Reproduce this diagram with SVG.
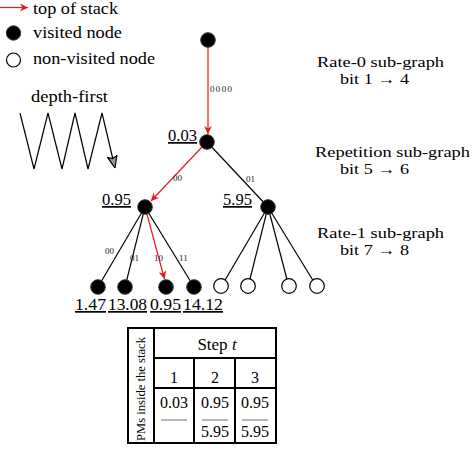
<svg xmlns="http://www.w3.org/2000/svg" width="474" height="449" viewBox="0 0 474 449">
<style>
text{font-family:"Liberation Serif","Times New Roman",serif;fill:#000}
.lg{font-size:17px}
.sg{font-size:15px}
.tx{font-size:16px}
.num{font-size:17px;text-decoration:underline}
.el{font-size:9px;fill:#222}
.blk{stroke:#000;stroke-width:1.2;fill:none}
.red{stroke:#e8191c;stroke-width:1.2;fill:none}
.vis{fill:#000;stroke:#333;stroke-width:1}
.nv{fill:#fff;stroke:#000;stroke-width:1.2}
.tb{stroke:#000;stroke-width:2;fill:none}
.gl{stroke:#888;stroke-width:1.2}
</style>
<defs>
<marker id="ra" viewBox="0 0 10 10" refX="10" refY="5" markerWidth="8" markerHeight="8" orient="auto" markerUnits="userSpaceOnUse">
<path d="M0,0 L10,5 L0,10 L3,5 Z" fill="#e8191c"/>
</marker>
<marker id="ba" viewBox="0 0 10 10" refX="10" refY="5" markerWidth="12" markerHeight="12" orient="auto" markerUnits="userSpaceOnUse">
<path d="M0,1 L10,5 L0,9 L2,5 Z" fill="#999" stroke="#000" stroke-width="1"/>
</marker>
</defs>

<g id="legend">
<line class="red" x1="0" y1="7.5" x2="28" y2="7.5" marker-end="url(#ra)"/>
<text class="lg" x="33" y="14" textLength="85" lengthAdjust="spacingAndGlyphs">top of stack</text>
<circle class="vis" cx="13.5" cy="33" r="7.2"/>
<text class="lg" x="33" y="38" textLength="89" lengthAdjust="spacingAndGlyphs">visited node</text>
<circle class="nv" cx="13.5" cy="60" r="7"/>
<text class="lg" x="33" y="64" textLength="122" lengthAdjust="spacingAndGlyphs">non-visited node</text>
</g>

<g id="depth-first">
<text class="lg" x="31" y="102" textLength="77" lengthAdjust="spacingAndGlyphs">depth-first</text>
<polyline class="blk" stroke-width="1.6" points="20,113 34,169 48,113 62,169 75,113 88,169 102,113 115,168" marker-end="url(#ba)"/>
</g>

<g id="connectors">
<line class="red" x1="208" y1="47" x2="208" y2="134" marker-end="url(#ra)"/>
<line class="red" x1="202" y1="147" x2="151" y2="201" marker-end="url(#ra)"/>
<line class="blk" x1="207" y1="142" x2="268" y2="207"/>
<line class="blk" x1="145" y1="207" x2="98" y2="287"/>
<line class="blk" x1="145" y1="207" x2="125" y2="287"/>
<line class="red" x1="145" y1="207" x2="164.5" y2="279" marker-end="url(#ra)"/>
<line class="blk" x1="145" y1="207" x2="194" y2="287"/>
<line class="blk" x1="268" y1="207" x2="221" y2="287"/>
<line class="blk" x1="268" y1="207" x2="248" y2="287"/>
<line class="blk" x1="268" y1="207" x2="289" y2="287"/>
<line class="blk" x1="268" y1="207" x2="317" y2="287"/>
<text class="el" x="210" y="92" textLength="22">0000</text>
<text class="el" x="173" y="181">00</text>
<text class="el" x="246" y="182">01</text>
<text class="el" x="105" y="254">00</text>
<text class="el" x="130" y="261">01</text>
<text class="el" x="154" y="261">10</text>
<text class="el" x="179" y="261">11</text>
</g>

<g id="n-root"><circle class="vis" cx="208" cy="40" r="7.3"/></g>
<g id="n-003"><circle class="vis" cx="207" cy="142" r="7.3"/><text class="num" x="168" y="141" textLength="29" lengthAdjust="spacingAndGlyphs">0.03</text></g>
<g id="n-095"><circle class="vis" cx="145" cy="207" r="7.3"/><text class="num" x="102" y="205" textLength="29" lengthAdjust="spacingAndGlyphs">0.95</text></g>
<g id="n-595"><circle class="vis" cx="268" cy="207" r="7.3"/><text class="num" x="223" y="205" textLength="29" lengthAdjust="spacingAndGlyphs">5.95</text></g>
<g id="l1"><circle class="vis" cx="98" cy="287" r="7.3"/><text class="num" x="75" y="310" textLength="31" lengthAdjust="spacingAndGlyphs">1.47</text></g>
<g id="l2"><circle class="vis" cx="125" cy="287" r="7.3"/><text class="num" x="108" y="310" textLength="39" lengthAdjust="spacingAndGlyphs">13.08</text></g>
<g id="l3"><circle class="vis" cx="166" cy="287" r="7.3"/><text class="num" x="150" y="310" textLength="31" lengthAdjust="spacingAndGlyphs">0.95</text></g>
<g id="l4"><circle class="vis" cx="194" cy="287" r="7.3"/><text class="num" x="183" y="310" textLength="40" lengthAdjust="spacingAndGlyphs">14.12</text></g>
<g id="r1"><circle class="nv" cx="221" cy="286" r="7.3"/></g>
<g id="r2"><circle class="nv" cx="248" cy="286" r="7.3"/></g>
<g id="r3"><circle class="nv" cx="289" cy="286" r="7.3"/></g>
<g id="r4"><circle class="nv" cx="317" cy="286" r="7.3"/></g>

<g id="labels">
<text class="sg" x="317" y="67" textLength="127" lengthAdjust="spacingAndGlyphs">Rate-0 sub-graph</text>
<text class="sg" x="340" y="84" textLength="69" lengthAdjust="spacingAndGlyphs">bit 1 → 4</text>
<text class="sg" x="315" y="157" textLength="155" lengthAdjust="spacingAndGlyphs">Repetition sub-graph</text>
<text class="sg" x="340" y="174" textLength="69" lengthAdjust="spacingAndGlyphs">bit 5 → 6</text>
<text class="sg" x="317" y="238" textLength="127" lengthAdjust="spacingAndGlyphs">Rate-1 sub-graph</text>
<text class="sg" x="340" y="255" textLength="69" lengthAdjust="spacingAndGlyphs">bit 7 → 8</text>
</g>

<g id="table">
<rect class="tb" x="128" y="328" width="148" height="115"/>
<line class="tb" x1="154" y1="328" x2="154" y2="443"/>
<line class="tb" x1="154" y1="358" x2="276" y2="358"/>
<line class="tb" x1="154" y1="388" x2="276" y2="388"/>
<line class="tb" stroke-width="2.5" x1="194" y1="358" x2="194" y2="443"/>
<line class="tb" stroke-width="2.5" x1="235" y1="358" x2="235" y2="443"/>
<text x="141" y="389" transform="rotate(-90 141 389)" text-anchor="middle" dy="4" textLength="104" lengthAdjust="spacingAndGlyphs" style="font-size:13px">PMs inside the stack</text>
<text class="lg" x="217" y="350" text-anchor="middle">Step <tspan font-style="italic">t</tspan></text>
<text class="tx" x="174" y="383" text-anchor="middle">1</text>
<text class="tx" x="215" y="383" text-anchor="middle">2</text>
<text class="tx" x="255" y="383" text-anchor="middle">3</text>
<text class="tx" x="174" y="408" text-anchor="middle">0.03</text>
<line class="gl" x1="161" y1="420" x2="187" y2="420"/>
<text class="tx" x="215" y="408" text-anchor="middle">0.95</text>
<line class="gl" x1="202" y1="420" x2="228" y2="420"/>
<text class="tx" x="215" y="437" text-anchor="middle">5.95</text>
<text class="tx" x="255" y="408" text-anchor="middle">0.95</text>
<line class="gl" x1="242" y1="420" x2="268" y2="420"/>
<text class="tx" x="255" y="437" text-anchor="middle">5.95</text>
</g>
</svg>
